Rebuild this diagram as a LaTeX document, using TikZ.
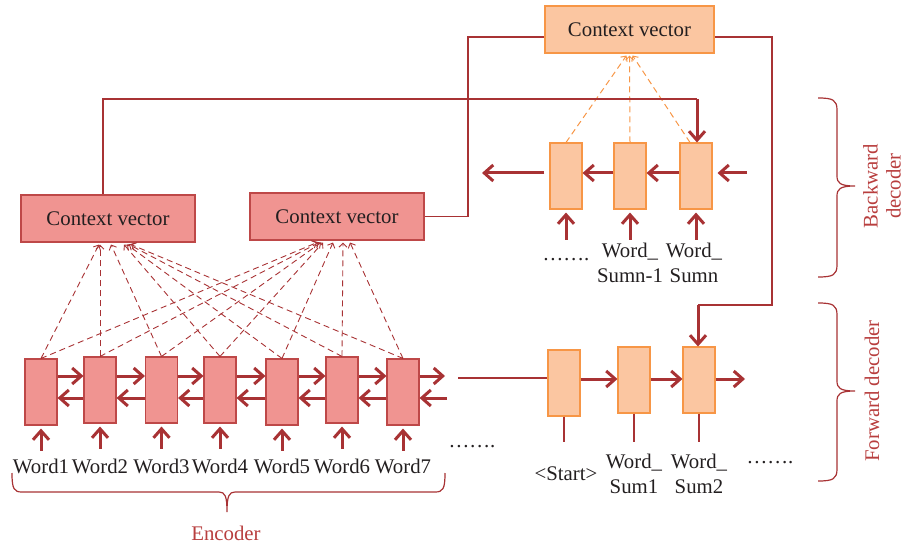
\documentclass[tikz,border=0pt]{standalone}
\usepackage{fontspec}
\setmainfont{Liberation Serif}
\usetikzlibrary{arrows.meta,calc}
\definecolor{encF}{RGB}{240,148,145}
\definecolor{encB}{RGB}{190,72,72}
\definecolor{decF}{RGB}{251,198,161}
\definecolor{decB}{RGB}{247,150,70}
\definecolor{arr}{RGB}{168,50,52}
\definecolor{lab}{RGB}{184,62,62}
\definecolor{txt}{RGB}{35,31,32}
\begin{document}
\begin{tikzpicture}[x=1pt,y=1pt,
  every node/.style={font=\fontsize{20.8}{25}\selectfont, text=txt, inner sep=0pt},
  encbox/.style={draw=encB, fill=encF, line width=1.1pt, minimum width=32pt, minimum height=66pt},
  decbox/.style={draw=decB, fill=decF, line width=1.1pt, minimum width=32pt, minimum height=66pt},
  cvenc/.style={draw=encB, fill=encF, line width=1.1pt, minimum width=174pt, minimum height=47pt},
  cvdec/.style={draw=decB, fill=decF, line width=1.1pt, minimum width=169pt, minimum height=47pt},
  bigarr/.style={draw=arr, line width=3pt, -{Straight Barb[length=9pt,width=16pt]}},
  dsh/.style={draw=arr, line width=0.9pt, dash pattern=on 6pt off 4pt, -{Straight Barb[length=4pt,width=8pt]}},
  dsho/.style={draw=decB, line width=1pt, dash pattern=on 6pt off 4pt, -{Straight Barb[length=4pt,width=8pt]}},
  link/.style={draw=arr, line width=1.2pt},
  bracepen/.style={draw=arr, line width=1.2pt},
  lbl/.style={text=lab}]
\useasboundingbox (0,0) rectangle (905,-548);

% context vectors
\node[cvenc] (cv1) at (108,-218.5) {Context vector};
\node[cvenc] (cv2) at (337,-216.5) {Context vector};
\node[cvdec] (cvt) at (629.5,-29.5) {Context vector};

% encoder boxes
\foreach \i/\x/\y in {1/41/392,2/100/390,3/161.5/390,4/220/390,5/282/392,6/342/390,7/403/392}{
  \node[encbox] (e\i) at (\x,-\y) {};
  \node[anchor=base] (w\i) at (\x,-473) {Word\i};
  \draw[bigarr] ($(e\i.south)+(0,-25)$) -- ($(e\i.south)+(0,-3)$);
}
% horizontal encoder arrows
\foreach \i/\j in {1/2,2/3,3/4,4/5,5/6,6/7}{
  \draw[bigarr] (e\i.east |- 0,-376) -- (e\j.west |- 0,-376);
  \draw[bigarr] (e\j.west |- 0,-398) -- (e\i.east |- 0,-398);
}
\coordinate (eo1) at (445,-376);
\coordinate (eo2) at (447,-398);
\draw[bigarr] (e7.east |- eo1) -- (eo1);
\draw[bigarr] (eo2) -- (e7.east |- eo2);
\node[anchor=base] (edots) at (472,-447) {…….};

% dashed attention lines
\foreach \i/\a/\b in {1/-9/-20,2/-8/-18,3/3/-16,4/16/-14,5/19/-4,6/21/6,7/23/13}{
  \draw[dsh] (e\i.north) -- ($(cv1.south)+(\a,-2)$);
  \draw[dsh] (e\i.north) -- ($(cv2.south)+(\b,-2)$);
}

% encoder brace and label
\draw[bracepen] (12,-473) .. controls (12,-489) and (14,-492) .. (22,-492) -- (219,-492)
  .. controls (225,-492) and (227,-496) .. (227,-512)
  .. controls (227,-496) and (229,-492) .. (235,-492) -- (435,-492)
  .. controls (443,-492) and (445,-489) .. (445,-473);
\node[lbl] (enc) at (226,-533) {Encoder};

% backward decoder
\node[decbox] (b1) at (566,-176) {};
\node[decbox] (b2) at (630,-176) {};
\node[decbox] (b3) at (696,-176) {};
\draw[bigarr] (b3.west |- 0,-173) -- (b2.east |- 0,-173);
\draw[bigarr] (b2.west |- 0,-173) -- (b1.east |- 0,-173);
\coordinate (bo) at (482,-173);
\coordinate (bi) at (747,-173);
\draw[bigarr] ($(b1.west |- bo)+(-5,0)$) -- (bo);
\draw[bigarr] (bi) -- ($(b3.east |- bi)+(5,0)$);
\foreach \i in {1,2,3}{
  \draw[bigarr] ($(b\i.south)+(0,-30)$) -- ($(b\i.south)+(0,-3)$);
}
\draw[dsho] (b1.north) -- ($(cvt.south)+(-3,-2)$);
\draw[dsho] (b2.north) -- ($(cvt.south)+(0,-2)$);
\draw[dsho] ($(b3.north)+(-6,0)$) -- ($(cvt.south)+(3,-2)$);
\node[anchor=base] (bdots) at (566,-260) {…….};
\node[align=center] (bw2) at (630,-263) {Word\_\\Sumn-1};
\node[align=center] (bw3) at (694,-263) {Word\_\\Sumn};

% forward decoder
\node[decbox] (f1) at (564,-383) {};
\node[decbox] (f2) at (634,-380) {};
\node[decbox] (f3) at (699,-380) {};
\coordinate (fi) at (458,-378);
\draw[link] (fi) -- (f1.west |- fi);
\draw[bigarr] (f1.east |- 0,-379) -- (f2.west |- 0,-379);
\draw[bigarr] (f2.east |- 0,-379) -- (f3.west |- 0,-379);
\coordinate (fo) at (745,-379);
\draw[bigarr] (f3.east |- fo) -- (fo);
\foreach \i in {1,2,3}{
  \draw[link] (f\i.south) -- ($(f\i.south|-0,-442)$);
}
\node[anchor=base] (start) at (566,-480) {<Start>};
\node[align=center] (fw2) at (634,-473.5) {Word\_\\Sum1};
\node[align=center] (fw3) at (699,-473.5) {Word\_\\Sum2};
\node[anchor=base] (fdots) at (770,-463) {…….};

% links between context vectors and decoders
\coordinate (k1) at (103,-99);
\coordinate (k2) at (697,-99);
\draw[link] ($(cv1.north)+(-5,0)$) -- (k1) -- (k2);
\draw[bigarr] (k2) -- (k2 |- b3.north);
\coordinate (k3) at (468,-216.5);
\coordinate (k4) at (468,-37);
\draw[link] (cv2.east) -- (k3) -- (k4) -- ($(cvt.west)+(0,-7.5)$);
\coordinate (k5) at (772,-37);
\coordinate (k6) at (772,-305);
\coordinate (k7) at (698,-305);
\draw[link] ($(cvt.east)+(0,-7.5)$) -- (k5) -- (k6) -- (k7);
\draw[bigarr] (k7) -- (k7 |- f3.north);

% right braces
\draw[bracepen] (818,-98) .. controls (833,-98) and (837,-100) .. (837,-110) -- (837,-176)
  .. controls (837,-183) and (840,-186) .. (855,-186)
  .. controls (840,-186) and (837,-189) .. (837,-196) -- (837,-265)
  .. controls (837,-275) and (833,-277) .. (818,-277);
\node[lbl, rotate=90, align=center, font=\fontsize{20.8}{23}\selectfont] (bd) at (882,-186) {Backward\\decoder};
\draw[bracepen] (818,-303) .. controls (833,-303) and (837,-305) .. (837,-315) -- (837,-381)
  .. controls (837,-388) and (840,-391) .. (855,-391)
  .. controls (840,-391) and (837,-394) .. (837,-401) -- (837,-469)
  .. controls (837,-479) and (833,-481) .. (818,-481);
\node[lbl, rotate=90] (fd) at (872,-391) {Forward decoder};
\end{tikzpicture}
\end{document}
